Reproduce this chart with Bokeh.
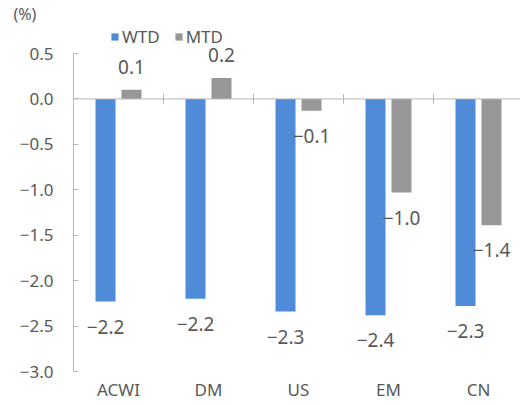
from bokeh.plotting import figure
from bokeh.models import (ColumnDataSource, FixedTicker, Legend, LegendItem, LabelSet, Span)
from bokeh.core.properties import value
from bokeh.embed import file_html
from bokeh.resources import INLINE

categories = ["ACWI", "DM", "US", "EM", "CN"]
wtd = [-2.23, -2.20, -2.34, -2.38, -2.28]
mtd = [0.10, 0.23, -0.13, -1.03, -1.39]
y_ticks = [-3.0, -2.5, -2.0, -1.5, -1.0, -0.5, 0.0, 0.5]

FONT = "Noto Sans"
TXT = "#595959"
BLUE = "#4F8BD7"
GRAY = "#979797"
AXIS = "#B7B7B7"

TITLE_H = 24                       # height taken by the title panel (measured)
frame_w = 447
frame_h = 371 - TITLE_H
y0 = y_ticks[0]
ppu = 318 / (y_ticks[-1] - y_ticks[0])   # pixels per y unit
y1 = y0 + frame_h / ppu
cat_px = 90
bar_w = 20 / cat_px
off = 13 / cat_px

xs = list(range(len(categories)))

def lab(v):
    return ("\u2212" if v < 0 else "") + f"{abs(v):.1f}"

def lab_y(v):
    return v + (23 / ppu if v >= 0 else -25 / ppu)

src_w = ColumnDataSource(dict(x=[i - off for i in xs], top=wtd,
                              ly=[lab_y(v) for v in wtd], txt=[lab(v) for v in wtd]))
src_m = ColumnDataSource(dict(x=[i + off for i in xs], top=mtd,
                              ly=[lab_y(v) for v in mtd], txt=[lab(v) for v in mtd]))

p = figure(frame_width=frame_w, frame_height=frame_h,
           x_range=(-0.5, -0.5 + frame_w / cat_px), y_range=(y0, y1),
           output_backend="svg", toolbar_location=None,
           min_border_left=73, min_border_top=0, min_border_bottom=26, min_border_right=0)
p.outline_line_color = None
p.grid.visible = False
p.background_fill_color = "white"

p.title.text = "(%)"
p.title.align = "left"
p.title.offset = -60
p.title.standoff = 0
p.title.text_font = FONT
p.title.text_font_size = "16px"
p.title.text_font_style = "normal"
p.title.text_color = TXT

rw = p.vbar(x="x", top="top", bottom=0, width=bar_w, source=src_w, fill_color=BLUE, line_color=None)
rm = p.vbar(x="x", top="top", bottom=0, width=bar_w, source=src_m, fill_color=GRAY, line_color=None)

# zero line with category separators
p.add_layout(Span(location=0, dimension="width", line_color=AXIS, line_width=1))
seps = [i + 0.5 for i in xs]
p.segment(x0=seps, x1=seps, y0=[-5 / ppu] * len(seps), y1=[5 / ppu] * len(seps),
          line_color=AXIS, line_width=1)

# y axis
ya = p.yaxis[0]
ya.ticker = FixedTicker(ticks=y_ticks)
ya.bounds = (y_ticks[0], y_ticks[-1])
ya.major_label_overrides = {t: lab(t) for t in y_ticks}
ya.axis_line_color = AXIS
ya.major_tick_line_color = AXIS
ya.major_tick_in = 5
ya.major_tick_out = 0
ya.minor_tick_line_color = None
ya.major_label_standoff = 20
ya.major_label_text_font = FONT
ya.major_label_text_font_size = "17px"
ya.major_label_text_color = TXT

# x axis
xa = p.xaxis[0]
xa.ticker = FixedTicker(ticks=xs)
xa.major_label_overrides = {i: c for i, c in zip(xs, categories)}
xa.axis_line_color = None
xa.major_tick_line_color = None
xa.minor_tick_line_color = None
xa.major_label_standoff = 0
xa.major_label_text_font = FONT
xa.major_label_text_font_size = "17px"
xa.major_label_text_color = TXT

# data labels
for s in (src_w, src_m):
    p.add_layout(LabelSet(x="x", y="ly", text="txt", source=s, text_align="center",
                          text_baseline="middle", text_font=value(FONT),
                          text_font_size=value("19px"), text_color=value(TXT)))

legend = Legend(items=[LegendItem(label="WTD", renderers=[rw]), LegendItem(label="MTD", renderers=[rm])],
                orientation="horizontal", location=(37, 371 - 48),
                glyph_width=9, glyph_height=9, label_standoff=3, spacing=14,
                padding=0, margin=0, border_line_color=None, background_fill_alpha=0,
                label_text_font=FONT, label_text_font_size="17px", label_text_color=TXT)
p.add_layout(legend)

open("out.html", "w").write(file_html(p, INLINE))
